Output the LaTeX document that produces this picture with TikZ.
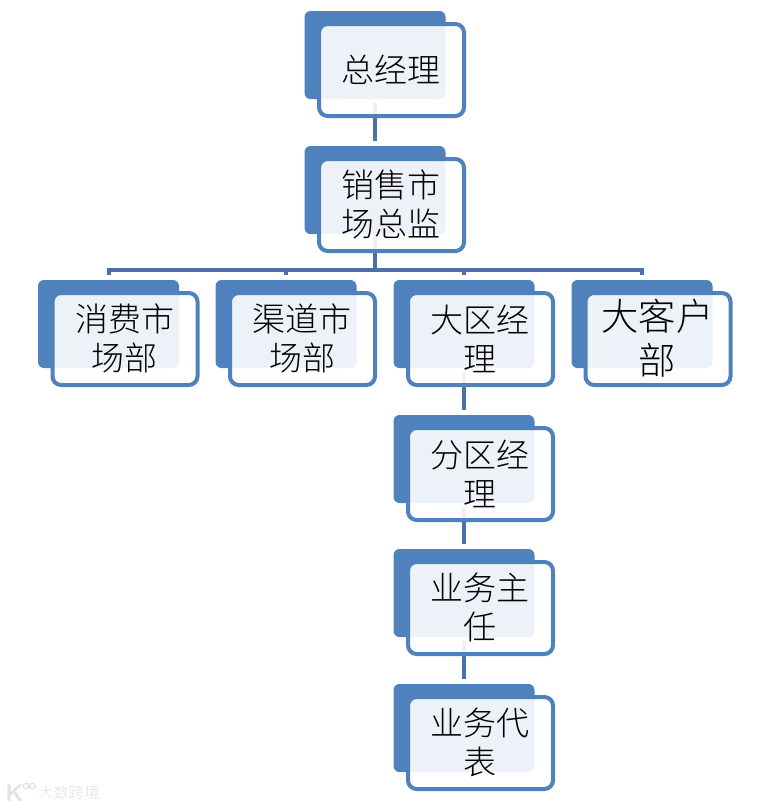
\documentclass[tikz,border=0pt]{standalone}
\usepackage{fontspec}
\newfontfamily\cjk{Noto Sans CJK SC Light}
\definecolor{boxblue}{HTML}{4F81BD}
\definecolor{linkblue}{HTML}{4A72A8}
\definecolor{markgrey}{HTML}{E2E2E2}
\tikzset{
  backbox/.style={rectangle,rounded corners=4.5pt,fill=boxblue,minimum width=105.75pt,minimum height=66pt,inner sep=0pt,outer sep=0pt},
  frontbox/.style={rectangle,rounded corners=6.5pt,draw=boxblue,line width=3pt,fill=white,fill opacity=0.9,draw opacity=1,minimum width=108.75pt,minimum height=69pt,inner sep=0pt,outer sep=0pt},
  boxtext/.style={inner sep=0pt,xshift=-0.3pt,yshift=0.4pt,align=center,font=\cjk\fontsize{24.75}{29.25}\selectfont},
  bigtext/.style={font=\cjk\fontsize{28}{33}\selectfont},
  link/.style={draw=linkblue,line width=3pt,shorten <=3pt,shorten >=3.75pt},
  busline/.style={draw=linkblue,line width=3pt,line cap=rect},
  marktext/.style={text=markgrey,font=\cjk\fontsize{11.5}{12}\selectfont,inner sep=0pt}
}
\begin{document}
\begin{tikzpicture}[x=0.75pt,y=-0.75pt]
\useasboundingbox (0,0) rectangle (772,808);
% back plates
\node[backbox] (b0) at (375,55) {};
\node[backbox] (b1) at (375,190) {};
\node[backbox] (b2) at (108.5,324) {};
\node[backbox] (b3) at (286,324) {};
\node[backbox] (b4) at (464,324) {};
\node[backbox] (b5) at (642,324) {};
\node[backbox] (b6) at (464,459) {};
\node[backbox] (b7) at (464,593) {};
\node[backbox] (b8) at (464,728) {};
% connectors
\coordinate (bus) at (375,270);
\draw[link] (b0.south) -- (b1.north);
\draw[busline] (b1.south) -- (bus);
\draw[busline] (bus -| b2.north) -- (bus -| b5.north);
\foreach \n in {b2,b3,b4,b5} \draw[draw=linkblue,line width=3pt,shorten >=3.75pt] (bus -| \n.north) -- (\n.north);
\draw[link] (b4.south) -- (b6.north);
\draw[link] (b6.south) -- (b7.north);
\draw[link] (b7.south) -- (b8.north);
% front plates
\node[frontbox] (f0) at (391.5,70) {};
\node[frontbox] (f1) at (391.5,205) {};
\node[frontbox] (f2) at (125,339) {};
\node[frontbox] (f3) at (302.5,339) {};
\node[frontbox] (f4) at (480.5,339) {};
\node[frontbox] (f5) at (658,339) {};
\node[frontbox] (f6) at (480.5,474) {};
\node[frontbox] (f7) at (480.5,608) {};
\node[frontbox] (f8) at (480.5,743) {};
% box texts
\node[boxtext] (t0) at (f0.center) {总经理};
\node[boxtext] (t1) at (f1.center) {销售市\\场总监};
\node[boxtext] (t2) at (f2.center) {消费市\\场部};
\node[boxtext] (t3) at (f3.center) {渠道市\\场部};
\node[boxtext] (t4) at (f4.center) {大区经\\理};
\node[boxtext,bigtext] (t5) at (f5.center) {大客户\\部};
\node[boxtext] (t6) at (f6.center) {分区经\\理};
\node[boxtext] (t7) at (f7.center) {业务主\\任};
\node[boxtext] (t8) at (f8.center) {业务代\\表};
% watermark
\node[marktext,anchor=west] (wm) at (38,793) {大数跨境};
\node[marktext,anchor=east,font=\sffamily\bfseries\fontsize{18}{18}\selectfont] (wk) at (24,793) {K};
\draw[markgrey,line width=1pt] (26,786) circle[radius=2.8];
\draw[markgrey,line width=1pt] (32.5,786) circle[radius=2.8];
\end{tikzpicture}
\end{document}
